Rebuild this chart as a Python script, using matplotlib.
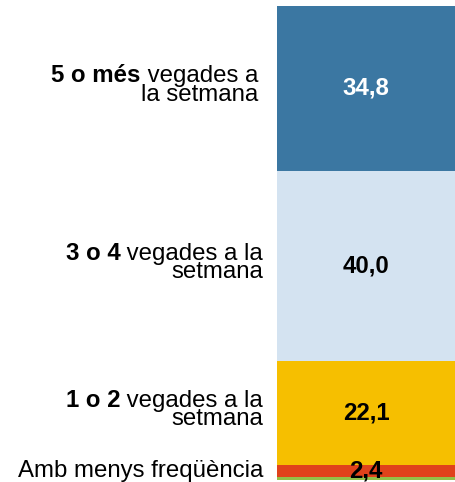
#!/usr/bin/env python3
"""
Stacked single bar: weekly frequency (%).
"""

import matplotlib
matplotlib.use('Agg')
import matplotlib.pyplot as plt

plt.rcParams['font.family'] = ['Liberation Sans', 'DejaVu Sans']

# data, bottom to top
bold_parts = ['', '1 o 2', '3 o 4', '5 o més']
rest_parts = [['Amb menys freqüència'],
              [' vegades a la', 'setmana'],
              [' vegades a la', 'setmana'],
              [' vegades a', 'la setmana']]
values = [2.4, 22.1, 40.0, 34.8]
other = 0.7  # unlabelled sliver at the very bottom
colors = ['#e0421b', '#f6bf00', '#d4e3f1', '#3b77a2']
other_color = '#93c047'
value_colors = ['black', 'black', 'black', 'white']

W, H, DPI = 455, 482, 100
FS = 17.3
label_right = [263, 263, 263, 258]  # px, right edge of each label block

fig = plt.figure(figsize=(W / DPI, H / DPI), dpi=DPI)
ax = fig.add_axes([277 / W, 2 / H, 178 / W, 474 / H])

ax.bar(0, other, width=1, color=other_color)
bottom = other
centers = []
for v, c in zip(values, colors):
    ax.bar(0, v, width=1, bottom=bottom, color=c)
    centers.append(bottom + v / 2)
    bottom += v

ax.set_xlim(-0.5, 0.5)
ax.set_ylim(0, 100)
ax.axis('off')

for v, yc, tc in zip(values, centers, value_colors):
    ax.text(0, yc, f'{v:.1f}'.replace('.', ','), ha='center', va='center',
            fontsize=FS, fontweight='bold', color=tc)

# category labels, right aligned left of the bar
fig.canvas.draw()
renderer = fig.canvas.get_renderer()
for bold, lines, yc, xpx in zip(bold_parts, rest_parts, centers, label_right):
    xr = xpx / W
    if len(lines) == 1:
        offs = [-6]
    else:
        offs = [6, -12.5]
    first = None
    for line, dy in zip(lines, offs):
        t = ax.annotate(line, xy=(xr, yc), xycoords=('figure fraction', 'data'),
                        xytext=(0, dy), textcoords='offset pixels',
                        ha='right', va='baseline', fontsize=FS)
        if first is None:
            first = (t, dy)
    if bold:
        t, dy = first
        x0 = t.get_window_extent(renderer).x0
        ax.annotate(bold, xy=(x0 / W, yc), xycoords=('figure fraction', 'data'),
                    xytext=(0, dy), textcoords='offset pixels',
                    ha='right', va='baseline', fontsize=FS, fontweight='bold')

plt.savefig('out.png', dpi=DPI)
